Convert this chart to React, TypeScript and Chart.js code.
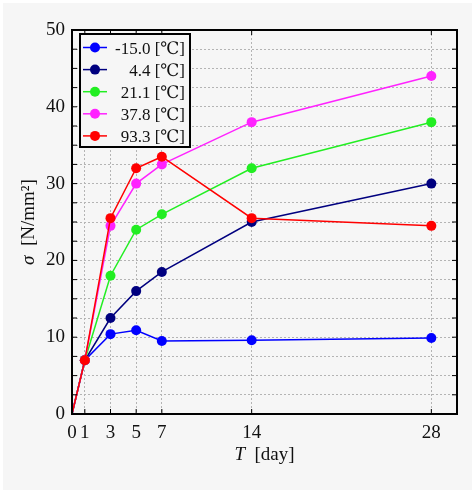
import { useEffect, useRef } from 'react';
import { Chart, registerables } from 'chart.js';

Chart.register(...registerables);

// curing time [day] and strength [N/mm²] for each temperature
const days = [0, 1, 3, 5, 7, 14, 28];
const sigmaM150 = [0, 7, 10.4, 10.9, 9.5, 9.6, 9.9];
const sigma44 = [0, 7, 12.5, 16, 18.5, 25, 30];
const sigma211 = [0, 7, 18, 24, 26, 32, 38];
const sigma378 = [0, 7, 24.5, 30, 32.5, 38, 44];
const sigma933 = [0, 7, 25.5, 32, 33.5, 25.5, 24.5];

const seriesLabels = ['-15.0 [℃]', '4.4 [℃]', '21.1 [℃]', '37.8 [℃]', '93.3 [℃]'];
const seriesColors = ['#0000ff', '#00007f', '#22ee22', '#ff22ff', '#ff0000'];
const seriesValues = [sigmaM150, sigma44, sigma211, sigma378, sigma933];

const xTicks = [0, 1, 3, 5, 7, 14, 28];
const yMajor = [0, 10, 20, 30, 40, 50];

const FONT = '"Liberation Serif", "DejaVu Serif", serif';
const BG = '#f6f6f6';

const framePlugin = {
  id: 'frame',
  afterDatasetsDraw(chart: any) {
    const { ctx, chartArea: a, scales } = chart;
    ctx.save();
    ctx.strokeStyle = '#000';
    ctx.lineWidth = 1;
    // inward ticks
    for (let v = 0; v <= 50; v += 2.5) {
      const y = scales.y.getPixelForValue(v);
      ctx.beginPath();
      ctx.moveTo(a.left, y);
      ctx.lineTo(a.left + 5, y);
      ctx.moveTo(a.right, y);
      ctx.lineTo(a.right - 5, y);
      ctx.stroke();
    }
    xTicks.forEach((v) => {
      const x = scales.x.getPixelForValue(v);
      ctx.beginPath();
      ctx.moveTo(x, a.top);
      ctx.lineTo(x, a.top + 5);
      ctx.moveTo(x, a.bottom);
      ctx.lineTo(x, a.bottom - 5);
      ctx.stroke();
    });
    ctx.lineWidth = 2;
    ctx.strokeRect(a.left, a.top, a.right - a.left, a.bottom - a.top);
    ctx.restore();
  },
  afterDraw(chart: any) {
    const { ctx, chartArea: a } = chart;
    ctx.save();
    // legend
    const lx = a.left + 8;
    const ly = a.top + 4;
    ctx.fillStyle = BG;
    ctx.fillRect(lx, ly, 110, 113);
    ctx.strokeStyle = '#000';
    ctx.lineWidth = 2;
    ctx.strokeRect(lx, ly, 110, 113);
    ctx.font = `17px ${FONT}`;
    ctx.textAlign = 'right';
    ctx.textBaseline = 'alphabetic';
    seriesLabels.forEach((label, i) => {
      const y = ly + 13.5 + i * 22.1;
      ctx.strokeStyle = seriesColors[i];
      ctx.lineWidth = 1.5;
      ctx.beginPath();
      ctx.moveTo(lx + 3, y);
      ctx.lineTo(lx + 27, y);
      ctx.stroke();
      ctx.fillStyle = seriesColors[i];
      ctx.beginPath();
      ctx.arc(lx + 15, y, 5, 0, Math.PI * 2);
      ctx.fill();
      ctx.fillStyle = '#111';
      ctx.fillText(label, lx + 105, y + 6);
    });

    // axis titles with italic symbols
    const drawTitle = (sym: string, rest: string) => {
      ctx.font = `italic 19px ${FONT}`;
      const w1 = ctx.measureText(sym).width;
      ctx.font = `19px ${FONT}`;
      const w2 = ctx.measureText(rest).width;
      const start = -(w1 + w2) / 2;
      ctx.textAlign = 'left';
      ctx.fillStyle = '#111';
      ctx.font = `italic 19px ${FONT}`;
      ctx.fillText(sym, start, 0);
      ctx.font = `19px ${FONT}`;
      ctx.fillText(rest, start + w1, 0);
    };
    ctx.save();
    ctx.translate((a.left + a.right) / 2, 460);
    drawTitle('T', '  [day]');
    ctx.restore();
    ctx.save();
    ctx.translate(34, (a.top + a.bottom) / 2);
    ctx.rotate(-Math.PI / 2);
    drawTitle('σ', '  [N/mm²]');
    ctx.restore();
    ctx.restore();
  },
};

export default function App() {
  const canvasRef = useRef<HTMLCanvasElement>(null);

  useEffect(() => {
    if (!canvasRef.current) return;
    const chart = new Chart(canvasRef.current, {
      type: 'line',
      data: {
        datasets: seriesValues.map((vals, i) => ({
          label: seriesLabels[i],
          data: days.map((d, j) => ({ x: d, y: vals[j] })),
          borderColor: seriesColors[i],
          backgroundColor: seriesColors[i],
          borderWidth: 1.5,
          pointRadius: (c: any) => (c.dataIndex === 0 ? 0 : 5),
          pointBorderWidth: 0,
          tension: 0,
          order: seriesValues.length - 1 - i,
        })),
      },
      options: {
        responsive: false,
        animation: false,
        layout: { padding: { top: 30, right: 17, left: 0, bottom: 0 } },
        plugins: { legend: { display: false }, tooltip: { enabled: false } },
        scales: {
          x: {
            type: 'linear',
            min: 0,
            max: 30,
            afterBuildTicks: (s: any) => {
              s.ticks = xTicks.map((v) => ({ value: v }));
            },
            afterFit: (s: any) => {
              s.height = 83;
            },
            ticks: {
              autoSkip: false,
              maxRotation: 0,
              padding: 8,
              color: '#111',
              font: { family: FONT, size: 19 },
              callback: (v: any) => String(v),
            },
            grid: { color: '#b4b4b4', lineWidth: 1, drawTicks: false },
            border: { display: false, dash: [2, 2] },
          },
          y: {
            min: 0,
            max: 50,
            afterFit: (s: any) => {
              s.width = 72;
            },
            ticks: {
              stepSize: 2.5,
              autoSkip: false,
              padding: 7,
              color: '#111',
              font: { family: FONT, size: 19 },
              callback: (v: any) => (yMajor.includes(Number(v)) ? String(v) : ''),
            },
            grid: { color: '#b4b4b4', lineWidth: 1, drawTicks: false },
            border: { display: false, dash: [2, 2] },
          },
        },
      },
      plugins: [framePlugin],
    });
    return () => chart.destroy();
  }, []);

  return (
    <div style={{ position: 'fixed', left: 0, top: 0, width: 474, height: 497, background: '#ffffff' }}>
      <div style={{ position: 'absolute', left: 3, top: 3, width: 469, height: 487, background: BG }} />
      <canvas ref={canvasRef} width={474} height={497} style={{ position: 'absolute', left: 0, top: 0 }} />
    </div>
  );
}
